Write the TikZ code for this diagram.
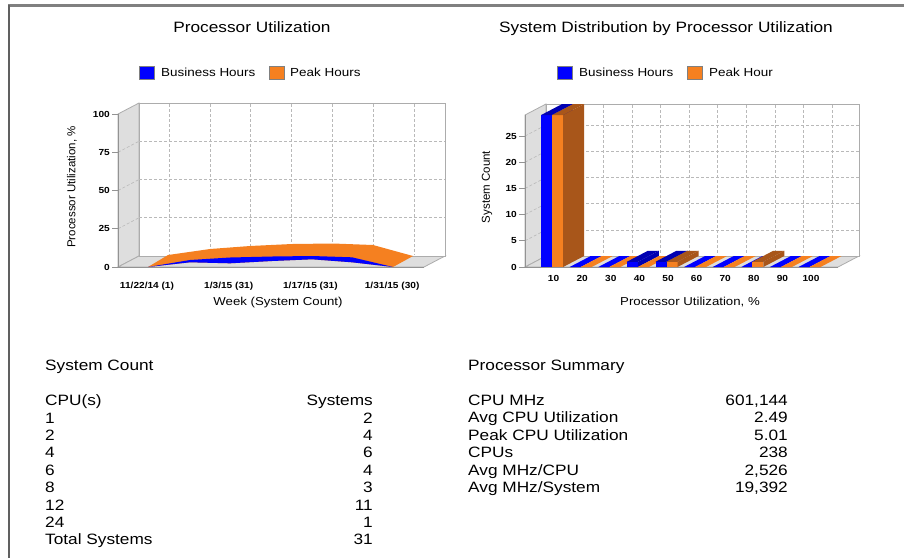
\documentclass[tikz,border=0pt]{standalone}
\usepackage{fontspec}
\setmainfont{Liberation Sans}
\usepackage{graphicx}
\definecolor{barblue}{RGB}{0,0,255}
\definecolor{bartop}{RGB}{0,0,178}
\definecolor{barorange}{RGB}{245,128,32}
\definecolor{barbrown}{RGB}{168,86,26}
\definecolor{wallgray}{RGB}{222,222,222}
\definecolor{edgegray}{RGB}{172,172,172}
\definecolor{framegray}{RGB}{128,128,128}
\newcommand{\wide}[1]{\scalebox{1.15}[1]{#1}}
% one 3d bar: left x, value, face colour, shade colour
\newcommand{\putbar}[4]{%
  \ifdim#2pt=0pt
    \fill[#3] (#1,267) -- ++(11,0) -- ++(21,-11) -- ++(-11,0) -- cycle;
  \else
    \fill[#3] (#1,267) rectangle ++(11,-5.24*#2);
    \fill[#4] (#1,267-5.24*#2) -- ++(11,0) -- ++(21,-11) -- ++(-11,0) -- cycle;
    \fill[#4] (#1+11,267) -- ++(0,-5.24*#2) -- ++(21,-11) -- ++(0,5.24*#2) -- cycle;
  \fi}
\tikzset{
  wall/.style={fill=wallgray, draw=edgegray, line width=0.8pt},
  gridline/.style={draw=gray!55, dash pattern=on 3pt off 2pt, line width=0.6pt},
  axisline/.style={draw=gray!85, line width=0.8pt},
  swatch/.style={draw=gray, line width=0.6pt},
  title/.style={inner sep=0pt, anchor=base, font=\fontsize{15}{18}\selectfont},
  legend/.style={inner sep=0pt, anchor=base west, font=\fontsize{11.7}{14}\selectfont},
  ticklabel/.style={inner sep=0pt, font=\fontsize{8.8}{10}\selectfont\bfseries},
  axistitle/.style={inner sep=0pt, font=\fontsize{11.5}{14}\selectfont},
  tabletext/.style={inner sep=0pt, font=\fontsize{15}{17}\selectfont},
}
\begin{document}
\begin{tikzpicture}[x=1pt, y=-1pt]
    \useasboundingbox (0,0) rectangle (904,558);
    \fill[white] (0,0) rectangle (904,558);
    \draw[framegray, line width=2.5pt] (8,5.5) -- (904,5.5);
    \draw[gray!75!black, line width=1.5pt] (9,5) -- (9,558);

    % titles and legends
    \node[title] (utiltitle) at (252,32.5) {\wide{Processor Utilization}};
    \node[title] (disttitle) at (666,32.5) {\wide{System Distribution by Processor Utilization}};
    \draw[swatch, fill=barblue] (139,66) rectangle (154,79);
    \node[legend] (lbus) at (161,76.7) {\wide{Business Hours}};
    \draw[swatch, fill=barorange] (269,66) rectangle (284,79);
    \node[legend] (lpeak) at (290,76.7) {\wide{Peak Hours}};
    \draw[swatch, fill=barblue] (557,66) rectangle (572,79);
    \node[legend] (rbus) at (579,76.7) {\wide{Business Hours}};
    \draw[swatch, fill=barorange] (687,66) rectangle (702,79);
    \node[legend] (rpeak) at (709,76.7) {\wide{Peak Hour}};

    % left chart: walls and grid
    \filldraw[wall] (118,267) -- (118,114) -- (139,103) -- (139,256) -- cycle;
    \filldraw[wall] (118,267) -- (424,267) -- (445,256) -- (139,256) -- cycle;
    \draw[edgegray, line width=0.8pt, fill=white] (139,103) rectangle (445,256);
    \foreach \k in {1,2,3} {
        \draw[gridline] (139,256-38.25*\k) -- (445,256-38.25*\k);
        \draw[gridline] (118,267-38.25*\k) -- (139,256-38.25*\k);
    }
    \foreach \i in {0,...,6}
        \draw[gridline] (169+40.8*\i,104) -- (169+40.8*\i,255);
    \draw[axisline] (118,114) -- (118,267) -- (424,267);
    \foreach \v [count=\k from 0] in {0,25,50,75,100} {
        \draw[axisline] (112,267-38.25*\k) -- (118,267-38.25*\k);
        \node[ticklabel, anchor=east] (uy\k) at (110,267-38.25*\k) {\wide{\v}};
    }
    \foreach \lab [count=\i from 0] in {{11/22/14 (1)},{1/3/15 (31)},{1/17/15 (31)},{1/31/15 (30)}}
        \node[ticklabel, anchor=base] (ux\i) at (147+81.7*\i,288) {\wide{\lab}};
    \node[axistitle, anchor=base] (uxtitle) at (278,305) {\wide{Week (System Count)}};
    \node[axistitle, rotate=90] (uytitle) at (72,187) {Processor Utilization, \%};

    % left chart: peak and business areas
    \fill[barorange] (148,267) -- (168,255) -- (210,249) -- (250,246) -- (292,244)
        -- (333,243.5) -- (373,245) -- (413,256) -- (393,267) -- (352,262.3)
        -- (312,259.3) -- (272,261) -- (230,263.3) -- (190,262.3) -- cycle;
    \fill[barblue] (148,267) -- (190,260) -- (230,257.5) -- (272,256.5) -- (312,256)
        -- (352,257.3) -- (393,267) -- (352,262.3) -- (312,259.3) -- (272,261)
        -- (230,263.3) -- (190,262.3) -- cycle;

    % right chart: walls and grid
    \filldraw[wall] (525,267) -- (525,115) -- (546,104) -- (546,256) -- cycle;
    \filldraw[wall] (525,267) -- (838,267) -- (859,256) -- (546,256) -- cycle;
    \draw[edgegray, line width=0.8pt, fill=white] (546,104) rectangle (859,256);
    \foreach \k in {1,...,5} {
        \draw[gridline] (546,256-26.2*\k) -- (859,256-26.2*\k);
        \draw[gridline] (525,267-26.2*\k) -- (546,256-26.2*\k);
    }
    \foreach \i in {1,...,10}
        \draw[gridline] (546+28.6*\i,105) -- (546+28.6*\i,255);
    \draw[axisline] (525,115) -- (525,267) -- (838,267);
    \foreach \v [count=\k from 0] in {0,5,10,15,20,25} {
        \draw[axisline] (519,267-26.2*\k) -- (525,267-26.2*\k);
        \node[ticklabel, anchor=east] (dy\k) at (517,267-26.2*\k) {\wide{\v}};
    }
    \foreach \lab [count=\k] in {10,20,...,100}
        \node[ticklabel, anchor=base] (dx\k) at (525+28.6*\k,281.5) {\wide{\lab}};
    \node[axistitle, anchor=base] (dxtitle) at (690,305) {\wide{Processor Utilization, \%}};
    \node[axistitle, rotate=90] (dytitle) at (487,187) {System Count};

    % right chart: bars
    \foreach \vb/\vo [count=\k] in {29/29,0/0,0/0,1/0,1/1,0/0,0/0,0/1,0/0,0/0} {
        \pgfmathsetmacro\cx{525+28.6*\k-1.5}
        \putbar{\cx-11}{\vb}{barblue}{bartop}
        \putbar{\cx}{\vo}{barorange}{barbrown}
    }

    % system count table
    \node[tabletext, anchor=base west] (cnthead) at (45,370) {\wide{System Count}};
    \node[tabletext, anchor=base west] (cpuhead) at (45,405.7) {\wide{CPU(s)}};
    \node[tabletext, anchor=base east] (syshead) at (373,405.7) {\wide{Systems}};
    \foreach \cpu/\sys [count=\i] in {1/2,2/4,4/6,6/4,8/3,12/11,24/1,Total Systems/31} {
        \node[tabletext, anchor=base west] (cpu\i) at (45,405.7+17.4*\i) {\wide{\cpu}};
        \node[tabletext, anchor=base east] (sys\i) at (373,405.7+17.4*\i) {\wide{\sys}};
    }

    % processor summary table
    \node[tabletext, anchor=base west] (sumhead) at (468,370) {\wide{Processor Summary}};
    \foreach \item/\val [count=\i from 0] in {CPU MHz/{601,144}, Avg CPU Utilization/2.49,
            Peak CPU Utilization/5.01, CPUs/238, {Avg MHz/CPU}/{2,526}, {Avg MHz/System}/{19,392}} {
        \node[tabletext, anchor=base west] (item\i) at (468,405+17.5*\i) {\wide{\item}};
        \node[tabletext, anchor=base east] (val\i) at (788,405+17.5*\i) {\wide{\val}};
    }
\end{tikzpicture}
\end{document}
